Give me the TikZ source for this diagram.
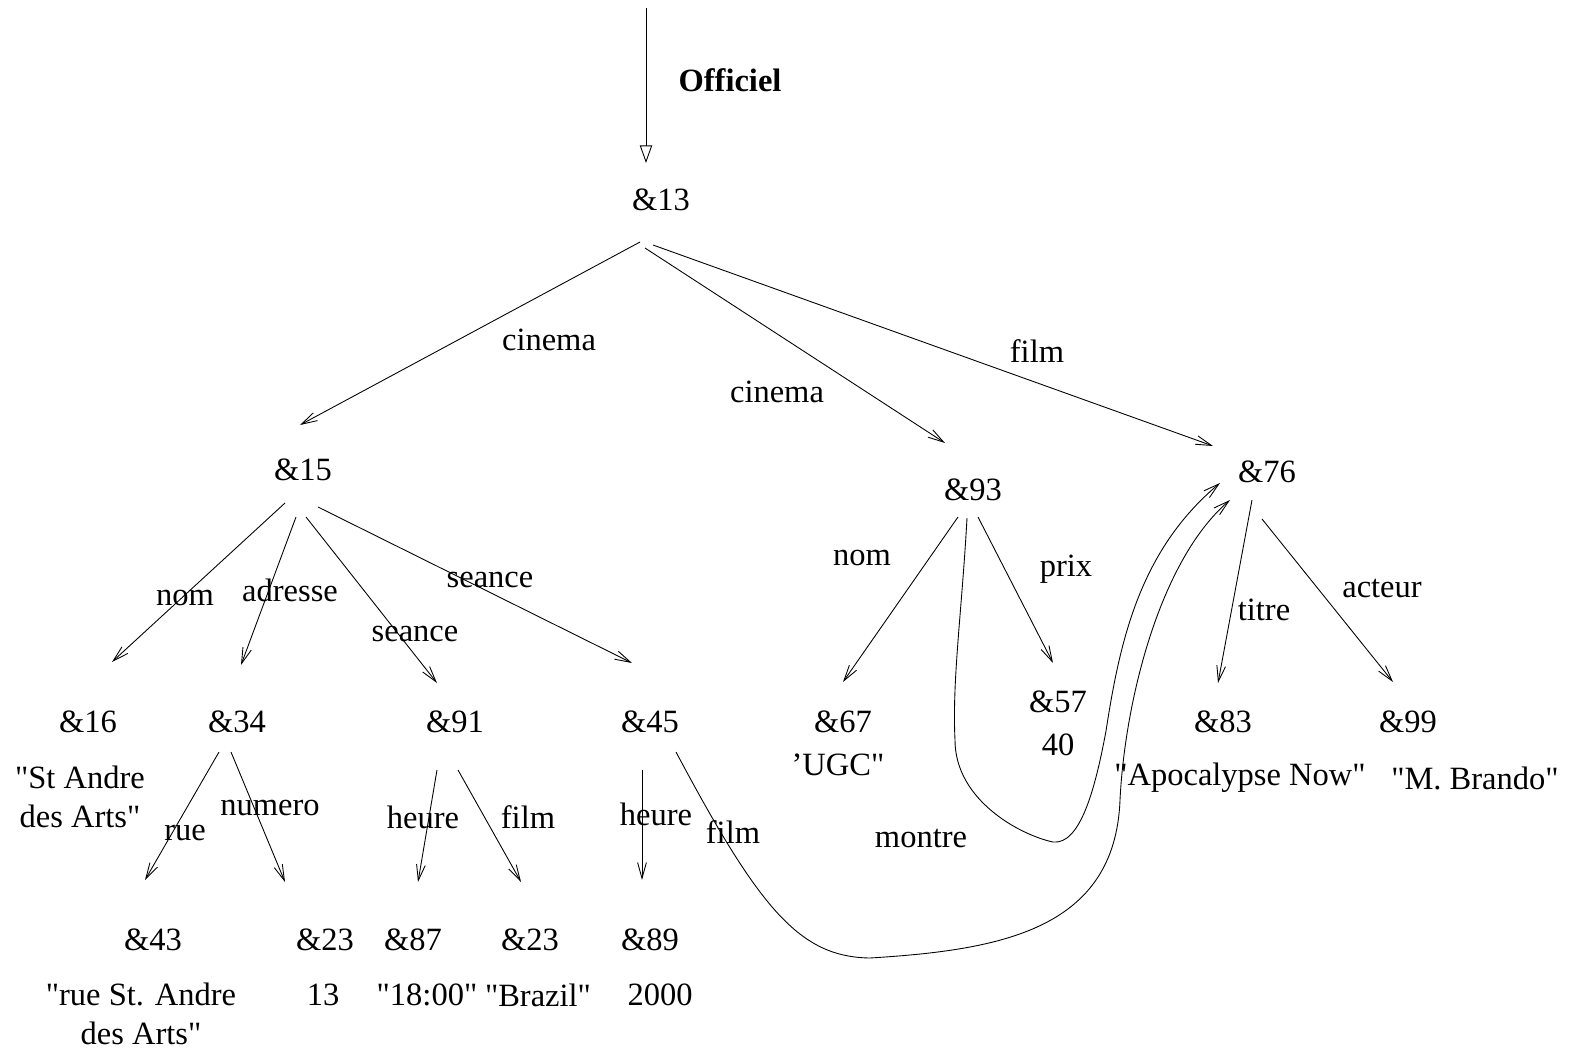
\documentclass[tikz,border=0pt]{standalone}
\usepackage{fontspec}
\setmainfont{Liberation Serif}[Ligatures={TeXOff,CommonOff}]
\usetikzlibrary{arrows.meta}
\usetikzlibrary{calc}

\begin{document}
\begin{tikzpicture}[x=0.02cm,y=-0.02cm]
% Styles
\tikzstyle{fleche}=[-{Straight Barb[length=9pt,width=5pt]},line width=0.5pt]
\tikzstyle{entree}=[-{Triangle[open,length=10pt,width=7pt]},line width=0.5pt]
\tikzstyle{objet}=[font=\fontsize{18.5}{22.2}\selectfont,align=center,inner sep=0pt]
\tikzstyle{etiquette}=[objet]
% Cadre de l'image
\useasboundingbox (0,0) rectangle (1573,1052);
% Racine
\coordinate (entree) at (646,8);
\node[etiquette,font=\fontsize{18.5}{22.2}\selectfont\bfseries] (officiel) at (730,80) {Officiel};
\node[objet] (n13) at (661,200) {\&13};
% Niveau 1
\node[objet] (n15) at (303,470) {\&15};
\node[objet] (n93) at (973,490) {\&93};
\node[objet] (n76) at (1267,472) {\&76};
% Niveau 2
\node[objet] (n16) at (88,722) {\&16};
\node[objet] (v16) at (80,797) {"St Andre\\des Arts"};
\node[objet] (n34) at (237,722) {\&34};
\node[objet] (n91) at (455,722) {\&91};
\node[objet] (n45) at (650,722) {\&45};
\node[objet] (n67) at (843,722) {\&67};
\node[objet] (v67) at (838,765) {’UGC"};
\node[objet] (n57) at (1058,702) {\&57};
\node[objet] (v57) at (1058,745) {40};
\node[objet] (n83) at (1223,722) {\&83};
\node[objet] (v83) at (1240,778) {"Apocalypse Now"};
\node[objet] (n99) at (1408,722) {\&99};
\node[objet] (v99) at (1475,778) {"M. Brando"};
% Niveau 3
\node[objet] (n43) at (153,940) {\&43};
\node[objet] (v43) at (141,1014) {"rue St. Andre\\des Arts"};
\node[objet] (n23a) at (325,940) {\&23};
\node[objet] (v23a) at (323,995) {13};
\node[objet] (n87) at (413,940) {\&87};
\node[objet] (v87) at (427,995) {"18:00"};
\node[objet] (n23b) at (530,940) {\&23};
\node[objet] (v23b) at (538,995) {"Brazil"};
\node[objet] (n89) at (650,940) {\&89};
\node[objet] (v89) at (660,995) {2000};
% Etiquettes des arcs
\node[etiquette] (l1) at (549,340) {cinema};
\node[etiquette] (l2) at (777,392) {cinema};
\node[etiquette] (l3) at (1037,351) {film};
\node[etiquette] (l4) at (185,598) {nom};
\node[etiquette] (l5) at (290,590) {adresse};
\node[etiquette] (l6) at (415,634) {seance};
\node[etiquette] (l7) at (490,580) {seance};
\node[etiquette] (l8) at (185,833) {rue};
\node[etiquette] (l9) at (270,808) {numero};
\node[etiquette] (l10) at (423,817) {heure};
\node[etiquette] (l11) at (528,817) {film};
\node[etiquette] (l12) at (656,814) {heure};
\node[etiquette] (l13) at (733,832) {film};
\node[etiquette] (l14) at (862,558) {nom};
\node[etiquette] (l15) at (1066,569) {prix};
\node[etiquette] (l16) at (921,838) {montre};
\node[etiquette] (l17) at (1264,610) {titre};
\node[etiquette] (l18) at (1382,589) {acteur};
% Fleche d'entree
\draw[entree] (entree) -- ($(n13)+(-15,-37)$);
% Arcs
\draw[fleche] ($(n13)+(-21,42)$) -- ($(n15)+(-3,-45)$);
\draw[fleche] ($(n13)+(-16,48)$) -- ($(n93)+(-28,-47)$);
\draw[fleche] ($(n13)+(-8,45)$) -- ($(n76)+(-54,-26)$);
\draw[fleche] ($(n15)+(-18,33)$) -- ($(n16)+(24,-60)$);
\draw[fleche] ($(n15)+(-7,47)$) -- ($(n34)+(4,-57)$);
\draw[fleche] ($(n15)+(3,47)$) -- ($(n91)+(-18,-39)$);
\draw[fleche] ($(n15)+(15,37)$) -- ($(n45)+(-18,-59)$);
\draw[fleche] ($(n34)+(-18,30)$) -- ($(n43)+(-8,-60)$);
\draw[fleche] ($(n34)+(-6,30)$) -- ($(n23a)+(-40,-58)$);
\draw[fleche] ($(n91)+(-18,48)$) -- ($(n87)+(5,-58)$);
\draw[fleche] ($(n91)+(3,48)$) -- ($(n23b)+(-9,-58)$);
\draw[fleche] ($(n45)+(-8,48)$) -- ($(n89)+(-8,-60)$);
\draw[fleche] ($(n93)+(-15,27)$) -- ($(n67)+(0,-40)$);
\draw[fleche] ($(n93)+(5,27)$) -- ($(n57)+(-5,-39)$);
\draw[fleche] ($(n76)+(-15,28)$) -- ($(n83)+(-5,-39)$);
\draw[fleche] ($(n76)+(-5,47)$) -- ($(n99)+(-15,-40)$);
% Arcs courbes
\draw[fleche] ($(n45)+(26,30)$) .. controls (760,910) and (800,957) .. (870,958)
  .. controls (1000,950) and (1115,930) .. (1120,800)
  .. controls (1125,700) and (1160,560) .. ($(n76)+(-37,28)$);
\draw[fleche] ($(n93)+(-6,28)$) .. controls (962,610) and (952,680) .. (955,740)
  .. controls (955,800) and (1020,835) .. (1053,842)
  .. controls (1080,845) and (1095,790) .. (1106,731)
  .. controls (1120,640) and (1140,550) .. ($(n76)+(-47,11)$);
\end{tikzpicture}
\end{document}
